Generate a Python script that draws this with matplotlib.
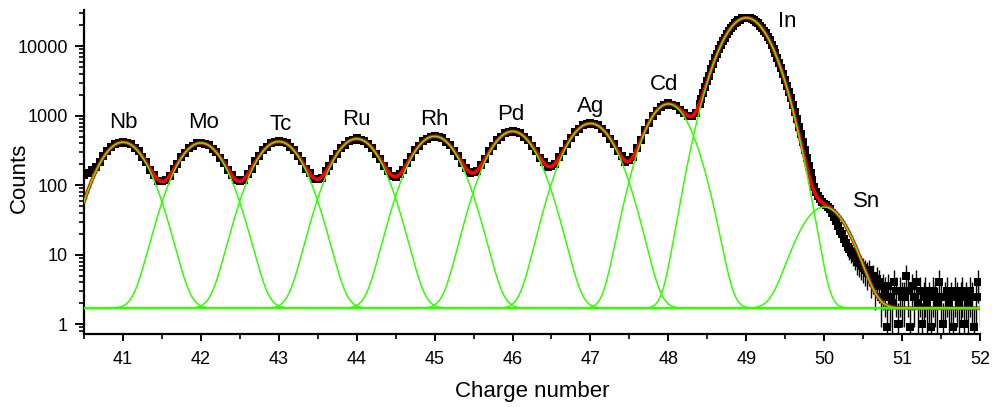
import matplotlib
matplotlib.use('Agg')
import matplotlib.pyplot as plt
import numpy as np
from matplotlib.ticker import LogLocator, FixedLocator, FuncFormatter, NullFormatter

plt.rcParams['font.family'] = ['Liberation Sans', 'DejaVu Sans']

# ── measured spectrum ────────────────────────────────────────────────────────
# part A: 40.50 .. 48.40, step 0.05
charge_a_start, charge_a_step = 40.5, 0.05
counts_a = [
    140, 150, 165, 185, 220, 262, 310, 352, 390, 412,
    420, 405, 392, 345, 310, 255, 216, 168, 143, 117,
    114, 121, 135, 172, 204, 257, 295, 347, 372, 405,
    410, 396, 382, 336, 303, 248, 211, 165, 141, 118,
    116, 120, 146, 171, 221, 260, 318, 353, 400, 414,
    431, 415, 400, 353, 318, 261, 222, 174, 149, 124,
    125, 129, 158, 188, 241, 285, 347, 386, 438, 454,
    472, 454, 438, 387, 347, 286, 242, 189, 162, 136,
    130, 146, 165, 211, 253, 318, 366, 431, 463, 503,
    511, 492, 475, 420, 377, 310, 263, 207, 179, 152,
    153, 160, 199, 238, 307, 364, 443, 494, 559, 579,
    603, 580, 558, 495, 444, 367, 312, 247, 215, 184,
    191, 204, 256, 308, 397, 473, 576, 644, 727, 755,
    786, 753, 726, 643, 574, 471, 394, 308, 260, 220,
    228, 255, 342, 450, 618, 787, 1005, 1170, 1358, 1433,
    1504, 1442, 1381, 1220, 1111, 988, 998, 1114, 1498,
]

# part B: 48.425 .. 52.00, step 0.025 (In peak, Sn shoulder, noisy tail)
charge_b_start, charge_b_step = 48.425, 0.025
counts_b = [
    1740, 2150, 2560, 3190, 3780, 4660, 5480, 6680, 7680, 9150,
    10330, 12050, 13350, 15200, 16550, 18400, 19650, 21350, 22300, 23800,
    24300, 25350, 25400, 25950,
    25450, 25300, 24350, 23750, 22400, 21400, 19750, 18500, 16700, 15300,
    13600, 12150, 10600, 9250, 8000, 6800, 5750, 4850, 4000, 3300,
    2720, 2200, 1780, 1420, 1130, 890, 700, 540, 420, 320,
    250, 190, 150, 118, 96, 80, 70, 63, 58, 54,
    52, 49, 45, 40, 35, 31, 26, 22, 20, 17,
    15, 13, 12, 11, 10, 9, 8, 7.5, 7, 6.5,
    6, 5.5, 6, 4.5, 5, 3.5, 4.5, 4, 2.5, 3.5,
    3, 0.9, 3.5, 2.5, 2, 4, 3, 1, 3, 2.5,
    2.5, 5, 3, 0.9, 3.5, 2.5, 4, 2, 3, 1,
    2.5, 3, 2, 2.5, 0.9, 3, 2.5, 2, 4, 2.5,
    1, 2.5, 3, 2, 2.5, 0.9, 3, 2.5, 2, 2.5,
    3, 1, 2.5, 2, 3, 2.5, 0.9, 2.5, 4, 2.5,
]

# ── multi-gaussian fit parameters ────────────────────────────────────────────
elements = ['Nb', 'Mo', 'Tc', 'Ru', 'Rh', 'Pd', 'Ag', 'Cd', 'In', 'Sn']
centers = [41, 42, 43, 44, 45, 46, 47, 48, 49, 50]
amplitudes = [415, 405, 425, 465, 505, 595, 775, 1480, 25700, 47]
sigmas = [0.25, 0.25, 0.25, 0.25, 0.25, 0.25, 0.25, 0.222, 0.242, 0.24]
baseline = 1.7

# label anchor (x, counts) for each element name
label_x = [41.0, 42.03, 43.02, 44.0, 45.0, 45.98, 47.0, 47.95, 49.53, 50.54]
label_y = [788, 788, 738, 871, 871, 1028, 1352, 2813, 22600, 58]

x_range = (40.5, 52.0)
y_range = (0.725, 33300)


def gauss(x, a, mu, s):
    return a * np.exp(-(x - mu) ** 2 / (2 * s ** 2))


charge_a = charge_a_start + charge_a_step * np.arange(len(counts_a))
charge_b = charge_b_start + charge_b_step * np.arange(len(counts_b))
charge = np.concatenate([charge_a, charge_b])
counts = np.array(counts_a + counts_b, dtype=float)
err = np.sqrt(counts)

fig = plt.figure(figsize=(9.92, 4.07), dpi=100)
ax = fig.add_axes([84 / 992, 73 / 407, 896 / 992, 324 / 407])

# ── data ──
ax.errorbar(charge, counts, yerr=err, fmt='s', color='black', ms=6.0,
            mew=0, elinewidth=1.0, capsize=2.4, capthick=1.0, zorder=2)

# ── fit ──
xf = np.linspace(x_range[0], x_range[1], 3000)
comps = [gauss(xf, a, m, s) for a, m, s in zip(amplitudes, centers, sigmas)]
total = baseline + np.sum(comps, axis=0)
ax.plot(xf, total, color='#ff0000', lw=2.6, zorder=3)
for c in comps:
    ax.plot(xf, baseline + c, color='#33ff00', lw=1.1, zorder=4)
ax.plot(xf, np.full_like(xf, baseline), color='#33ff00', lw=1.5, zorder=4)

for name, lx, ly in zip(elements, label_x, label_y):
    ax.text(lx, ly, name, fontsize=16, ha='center', va='center', zorder=6)

ax.set_yscale('log')
ax.set_xlim(*x_range)
ax.set_ylim(*y_range)

ax.xaxis.set_major_locator(FixedLocator(np.arange(41, 53)))
ax.xaxis.set_minor_locator(FixedLocator(np.arange(40.5, 52.01, 1.0)))
ax.yaxis.set_major_locator(LogLocator(base=10, numticks=10))
ax.yaxis.set_minor_locator(LogLocator(base=10, subs=np.arange(2, 10), numticks=20))
ax.yaxis.set_major_formatter(FuncFormatter(lambda v, p: f'{v:g}'))
ax.yaxis.set_minor_formatter(NullFormatter())

for side in ['top', 'right']:
    ax.spines[side].set_visible(False)
for side in ['left', 'bottom']:
    ax.spines[side].set_linewidth(1.6)

ax.tick_params(axis='both', which='major', direction='out', width=1.4, labelsize=13)
ax.tick_params(axis='y', which='major', length=6.5, pad=5)
ax.tick_params(axis='y', which='minor', direction='out', length=3.5, width=1.2)
ax.tick_params(axis='x', which='major', length=5, pad=7)
ax.tick_params(axis='x', which='minor', direction='out', length=3.5, width=1.2)

fig.text(19 / 992, 1 - 178 / 407, 'Counts', rotation=90, fontsize=16,
         ha='center', va='center')
fig.text(532 / 992, 1 - 392 / 407, 'Charge number', fontsize=16,
         ha='center', va='center')

fig.savefig('out.png', dpi=100)
